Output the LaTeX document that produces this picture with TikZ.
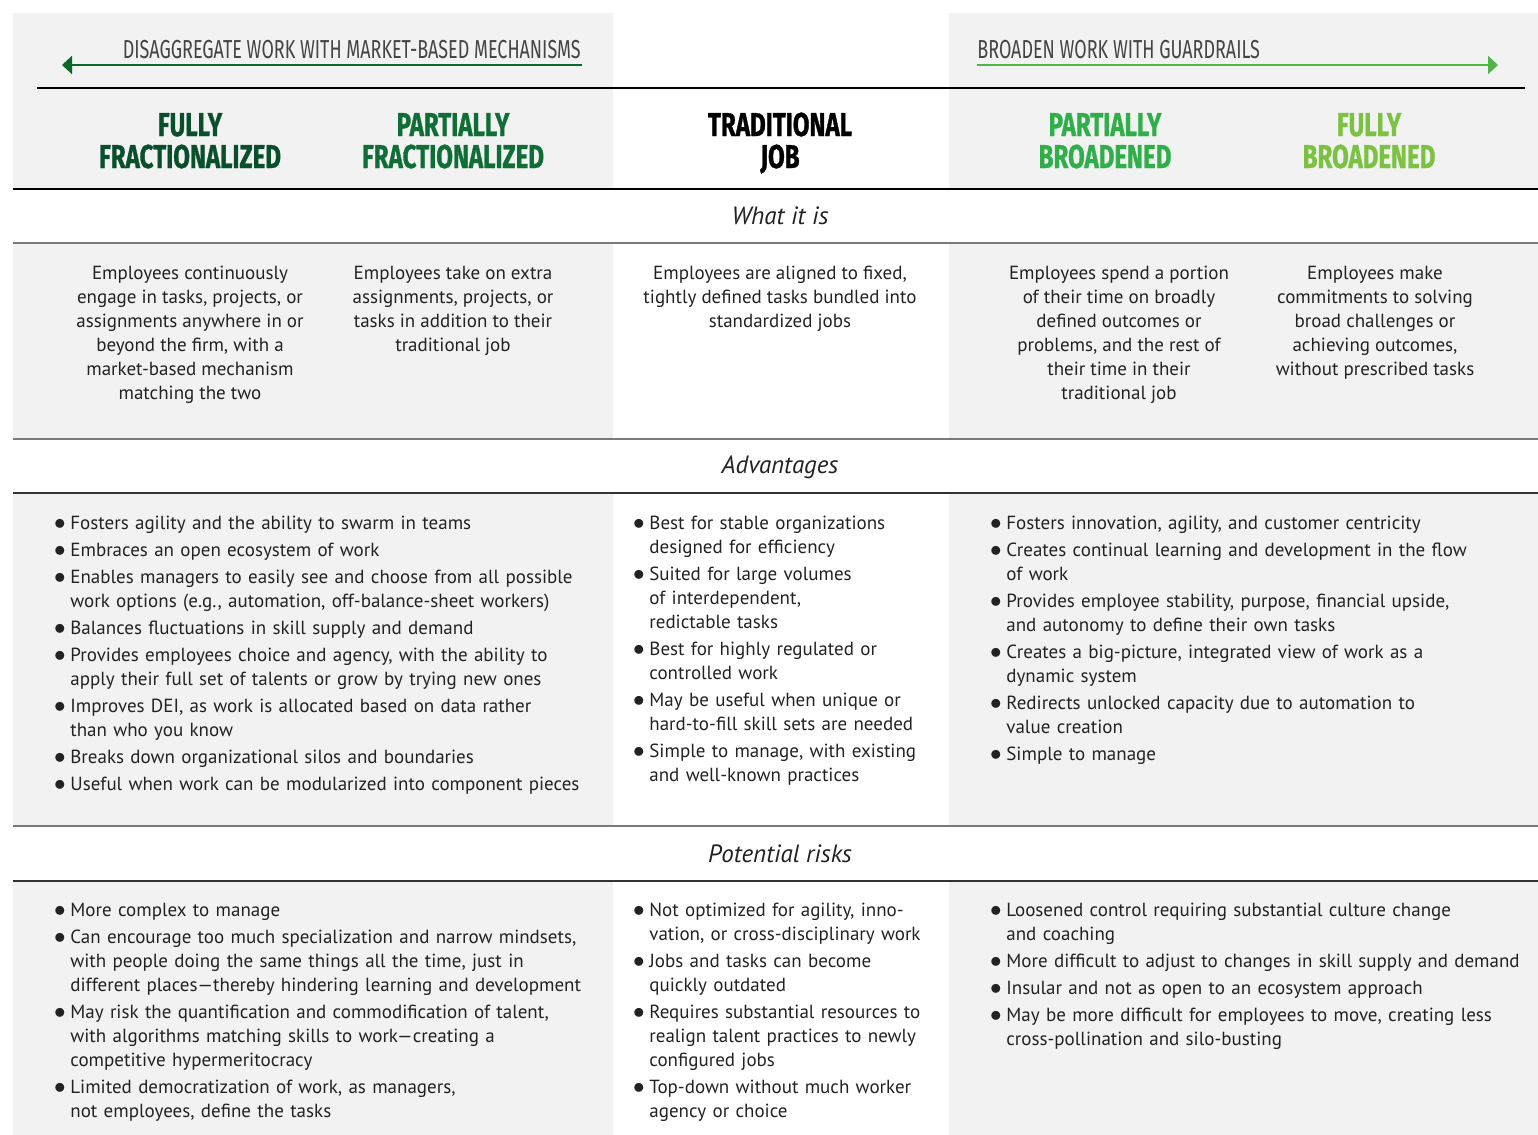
\documentclass[tikz,border=0pt]{standalone}
\usepackage{fontspec}
\setmainfont{PT Sans}
\newfontfamily\headfont[FakeStretch=0.73,FakeBold=0.9]{Fira Sans}
\newfontfamily\tagfont[FakeStretch=0.69]{Fira Sans}
\usetikzlibrary{arrows.meta}

\definecolor{panel}{HTML}{F2F2F2}
\definecolor{ink}{HTML}{222222}
\definecolor{tagink}{HTML}{444444}
\definecolor{rulegray}{HTML}{7A7A7A}
\definecolor{ffgreen}{HTML}{0A4F2C}
\definecolor{pfgreen}{HTML}{0E6E36}
\definecolor{pbgreen}{HTML}{2FAE4A}
\definecolor{fbgreen}{HTML}{7CC242}

\newcommand\bitem{\par\noindent\hangindent=7.5pt\hangafter=1\makebox[7.5pt][l]{\hspace{-0.7pt}\scalebox{1.25}{$\bullet$}}}

\begin{document}
\begin{tikzpicture}[x=0.5pt,y=-0.5pt,
	head/.style={font=\headfont\bfseries\fontsize{16.5}{16}\selectfont, align=center, inner sep=0, anchor=base},
	tag/.style={font=\tagfont\fontsize{13}{14}\selectfont, text=tagink, inner sep=0},
	sect/.style={font=\itshape\fontsize{12.5}{14}\selectfont, text=ink, inner sep=0},
	desc/.style={font=\fontsize{9.5}{12}\selectfont, text=ink, align=center, inner sep=0, anchor=north},
	blist/.style={font=\fontsize{9.5}{12}\selectfont, text=ink, align=left, inner sep=0, anchor=north west,
		execute at begin node={\setlength\parskip{1.5pt}}},
	larrow/.style={-{Triangle[length=5pt,width=9pt]}, line width=1pt},
	darkrule/.style={line width=0.8pt, draw=black!80},
	lightrule/.style={line width=0.8pt, draw=rulegray}]

	\useasboundingbox (0,0) rectangle (1538,1135);

	\fill[panel] (13,13) rectangle (613,1135);
	\fill[panel] (949,13) rectangle (1538,1135);
	\fill[white] (13,189) rectangle (1538,243);
	\fill[white] (13,439) rectangle (1538,493);
	\fill[white] (13,826) rectangle (1538,881);

	\node[tag, anchor=base east] (disagg) at (581,58) {DISAGGREGATE WORK WITH MARKET-BASED MECHANISMS};
	\node[tag, anchor=base west] (broaden) at (977,58) {BROADEN WORK WITH GUARDRAILS};
	\coordinate (lstart) at (582,65);
	\coordinate (ltip) at (62,65);
	\coordinate (rstart) at (977,65);
	\coordinate (rtip) at (1498,65);
	\draw[larrow, ffgreen!85!green] (lstart) -- (ltip);
	\draw[larrow, pbgreen!60!fbgreen] (rstart) -- (rtip);

	\draw[line width=1.1pt] (37,88) -- (1525,88);

	\node[head, text=ffgreen] (fullfrac) at (190,168) {FULLY\\FRACTIONALIZED};
	\node[head, text=pfgreen] (partfrac) at (453,168) {PARTIALLY\\FRACTIONALIZED};
	\node[head, text=black] (tradjob) at (780,168) {TRADITIONAL\\JOB};
	\node[head, text=pbgreen] (partbroad) at (1105,168) {PARTIALLY\\BROADENED};
	\node[head, text=fbgreen] (fullbroad) at (1369,168) {FULLY\\BROADENED};

	\draw[line width=1.1pt] (13,189) -- (1538,189);
	\draw[lightrule] (13,243) -- (1538,243);
	\draw[lightrule] (13,439) -- (1538,439);
	\draw[darkrule] (13,493) -- (1538,493);
	\draw[lightrule] (13,826) -- (1538,826);
	\draw[darkrule] (13,881) -- (1538,881);

	\node[sect] (whatis) at (780,216) {What it is};
	\node[sect] (advantages) at (780,467) {Advantages};
	\node[sect] (risks) at (780,854) {Potential risks};

	\node[desc] (whatff) at (190,266) {Employees continuously\\engage in tasks, projects, or\\assignments anywhere in or\\beyond the firm, with a\\market-based mechanism\\matching the two};
	\node[desc] (whatpf) at (453,266) {Employees take on extra\\assignments, projects, or\\tasks in addition to their\\traditional job};
	\node[desc] (whattj) at (780,266) {Employees are aligned to fixed,\\tightly defined tasks bundled into\\standardized jobs};
	\node[desc] (whatpb) at (1119,266) {Employees spend a portion\\of their time on broadly\\defined outcomes or\\problems, and the rest of\\their time in their\\traditional job};
	\node[desc] (whatfb) at (1375,266) {Employees make\\commitments to solving\\broad challenges or\\achieving outcomes,\\without prescribed tasks};

	\node[blist, text width=290pt] (advfrac) at (55,502) {%
		\bitem Fosters agility and the ability to swarm in teams
		\bitem Embraces an open ecosystem of work
		\bitem Enables managers to easily see and choose from all possible\newline work options (e.g., automation, off-balance-sheet workers)
		\bitem Balances fluctuations in skill supply and demand
		\bitem Provides employees choice and agency, with the ability to\newline apply their full set of talents or grow by trying new ones
		\bitem Improves DEI, as work is allocated based on data rather\newline than who you know
		\bitem Breaks down organizational silos and boundaries
		\bitem Useful when work can be modularized into component pieces\par};
	\node[blist, text width=160pt] (advtrad) at (634,502) {%
		\bitem Best for stable organizations\newline designed for efficiency
		\bitem Suited for large volumes\newline of interdependent,\newline redictable tasks
		\bitem Best for highly regulated or\newline controlled work
		\bitem May be useful when unique or\newline hard-to-fill skill sets are needed
		\bitem Simple to manage, with existing\newline and well-known practices\par};
	\node[blist, text width=270pt] (advbroad) at (991,502) {%
		\bitem Fosters innovation, agility, and customer centricity
		\bitem Creates continual learning and development in the flow\newline of work
		\bitem Provides employee stability, purpose, financial upside,\newline and autonomy to define their own tasks
		\bitem Creates a big-picture, integrated view of work as a\newline dynamic system
		\bitem Redirects unlocked capacity due to automation to\newline value creation
		\bitem Simple to manage\par};

	\node[blist, text width=290pt] (riskfrac) at (55,889) {%
		\bitem More complex to manage
		\bitem Can encourage too much specialization and narrow mindsets,\newline with people doing the same things all the time, just in\newline different places—thereby hindering learning and development
		\bitem May risk the quantification and commodification of talent,\newline with algorithms matching skills to work—creating a\newline competitive hypermeritocracy
		\bitem Limited democratization of work, as managers,\newline not employees, define the tasks\par};
	\node[blist, text width=160pt] (risktrad) at (634,889) {%
		\bitem Not optimized for agility, inno-\newline vation, or cross-disciplinary work
		\bitem Jobs and tasks can become\newline quickly outdated
		\bitem Requires substantial resources to\newline realign talent practices to newly\newline configured jobs
		\bitem Top-down without much worker\newline agency or choice\par};
	\node[blist, text width=270pt] (riskbroad) at (991,889) {%
		\bitem Loosened control requiring substantial culture change\newline and coaching
		\bitem More difficult to adjust to changes in skill supply and demand
		\bitem Insular and not as open to an ecosystem approach
		\bitem May be more difficult for employees to move, creating less\newline cross-pollination and silo-busting\par};

\end{tikzpicture}
\end{document}
